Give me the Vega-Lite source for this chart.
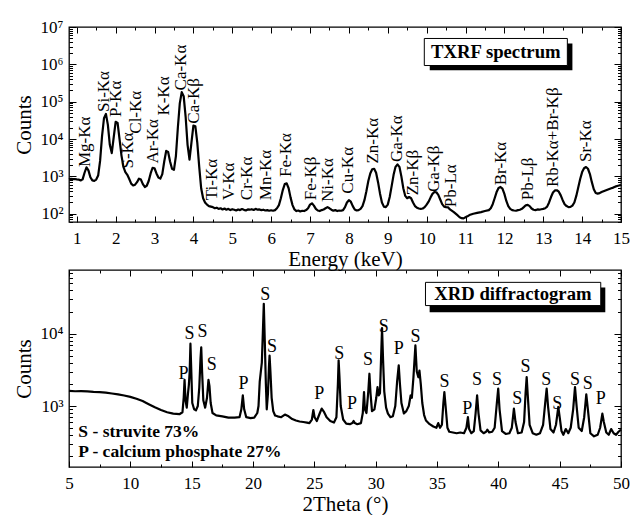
{
  "$schema": "https://vega.github.io/schema/vega-lite/v6.json",
  "padding": {"left": 12, "top": 17, "right": 1, "bottom": 0},
  "spacing": -2,
  "datasets": {
    "txrf": [
      {"e":0.8,"c":830},{"e":0.85,"c":860},{"e":0.9,"c":840},{"e":0.95,"c":850},{"e":1.0,"c":830},{"e":1.05,"c":820},{"e":1.1,"c":780},{"e":1.15,"c":830},{"e":1.2,"c":1250},{"e":1.25,"c":1750},{"e":1.3,"c":1450},{"e":1.35,"c":950},{"e":1.4,"c":780},{"e":1.45,"c":760},{"e":1.5,"c":820},{"e":1.55,"c":1050},{"e":1.6,"c":2600},{"e":1.65,"c":12000},{"e":1.7,"c":36000},{"e":1.75,"c":47000},{"e":1.8,"c":24000},{"e":1.85,"c":7000},{"e":1.9,"c":4200},{"e":1.95,"c":11000},{"e":2.0,"c":29000},{"e":2.05,"c":27000},{"e":2.1,"c":10000},{"e":2.15,"c":3600},{"e":2.2,"c":1800},{"e":2.25,"c":1300},{"e":2.3,"c":1100},{"e":2.35,"c":850},{"e":2.4,"c":640},{"e":2.45,"c":570},{"e":2.5,"c":600},{"e":2.55,"c":700},{"e":2.6,"c":870},{"e":2.65,"c":820},{"e":2.7,"c":620},{"e":2.75,"c":520},{"e":2.8,"c":560},{"e":2.85,"c":750},{"e":2.9,"c":1200},{"e":2.95,"c":1700},{"e":3.0,"c":1650},{"e":3.05,"c":1200},{"e":3.1,"c":930},{"e":3.15,"c":870},{"e":3.2,"c":1150},{"e":3.25,"c":2500},{"e":3.3,"c":4800},{"e":3.35,"c":4500},{"e":3.4,"c":2500},{"e":3.45,"c":1600},{"e":3.5,"c":1500},{"e":3.55,"c":3500},{"e":3.6,"c":20000},{"e":3.65,"c":90000},{"e":3.7,"c":180000},{"e":3.75,"c":140000},{"e":3.8,"c":40000},{"e":3.85,"c":7000},{"e":3.9,"c":2800},{"e":3.95,"c":8000},{"e":4.0,"c":23000},{"e":4.05,"c":22000},{"e":4.1,"c":8000},{"e":4.15,"c":1800},{"e":4.2,"c":480},{"e":4.25,"c":260},{"e":4.3,"c":200},{"e":4.35,"c":175},{"e":4.4,"c":160},{"e":4.45,"c":155},
      {"e":4.5,"c":150},{"e":4.55,"c":140},{"e":4.6,"c":145},{"e":4.65,"c":135},{"e":4.7,"c":140},{"e":4.75,"c":130},{"e":4.8,"c":138},{"e":4.85,"c":128},{"e":4.9,"c":135},{"e":4.95,"c":125},{"e":5.0,"c":132},{"e":5.05,"c":128},{"e":5.1,"c":122},{"e":5.15,"c":130},{"e":5.2,"c":125},{"e":5.25,"c":133},{"e":5.3,"c":127},{"e":5.35,"c":122},{"e":5.4,"c":130},{"e":5.45,"c":128},{"e":5.5,"c":132},{"e":5.55,"c":126},{"e":5.6,"c":135},{"e":5.65,"c":128},{"e":5.7,"c":130},{"e":5.75,"c":125},{"e":5.8,"c":128},{"e":5.85,"c":122},{"e":5.9,"c":125},{"e":5.95,"c":120},{"e":6.0,"c":124},{"e":6.05,"c":120},{"e":6.1,"c":125},{"e":6.15,"c":140},{"e":6.2,"c":170},{"e":6.25,"c":260},{"e":6.3,"c":430},{"e":6.35,"c":620},{"e":6.4,"c":650},{"e":6.45,"c":480},{"e":6.5,"c":270},{"e":6.55,"c":170},{"e":6.6,"c":130},{"e":6.65,"c":118},{"e":6.7,"c":122},{"e":6.75,"c":115},{"e":6.8,"c":120},{"e":6.85,"c":118},{"e":6.9,"c":125},{"e":6.95,"c":140},{"e":7.0,"c":175},{"e":7.05,"c":190},{"e":7.1,"c":165},{"e":7.15,"c":135},{"e":7.2,"c":122},{"e":7.25,"c":118},{"e":7.3,"c":125},{"e":7.35,"c":130},{"e":7.4,"c":140},{"e":7.45,"c":150},{"e":7.5,"c":140},{"e":7.55,"c":128},{"e":7.6,"c":120},{"e":7.65,"c":125},{"e":7.7,"c":118},{"e":7.75,"c":122},{"e":7.8,"c":120},{"e":7.85,"c":125},{"e":7.9,"c":150},{"e":7.95,"c":200},{"e":8.0,"c":230},{"e":8.05,"c":210},{"e":8.1,"c":160},{"e":8.15,"c":130},{"e":8.2,"c":122},{"e":8.25,"c":125},{"e":8.3,"c":135},{"e":8.35,"c":160},{"e":8.4,"c":230},{"e":8.45,"c":400},{"e":8.5,"c":750},{"e":8.55,"c":1200},{"e":8.6,"c":1550},{"e":8.65,"c":1600},{"e":8.7,"c":1250},{"e":8.75,"c":700},{"e":8.8,"c":350},{"e":8.85,"c":200},{"e":8.9,"c":155},{"e":8.95,"c":150},{"e":9.0,"c":175},{"e":9.05,"c":280},{"e":9.1,"c":550},{"e":9.15,"c":1100},{"e":9.2,"c":1800},{"e":9.25,"c":2100},{"e":9.3,"c":1800},{"e":9.35,"c":1000},{"e":9.4,"c":480},{"e":9.45,"c":300},{"e":9.5,"c":260},{"e":9.55,"c":280},{"e":9.6,"c":260},{"e":9.65,"c":200},{"e":9.7,"c":160},{"e":9.75,"c":145},{"e":9.8,"c":138},{"e":9.85,"c":135},{"e":9.9,"c":138},{"e":9.95,"c":150},{"e":10.0,"c":175},{"e":10.05,"c":210},{"e":10.1,"c":270},{"e":10.15,"c":340},{"e":10.2,"c":380},{"e":10.25,"c":375},{"e":10.3,"c":320},{"e":10.35,"c":240},{"e":10.4,"c":180},{"e":10.45,"c":155},{"e":10.5,"c":150},{"e":10.55,"c":148},{"e":10.6,"c":130},{"e":10.7,"c":110},{"e":10.8,"c":90},{"e":10.85,"c":80},{"e":10.9,"c":76},{"e":10.95,"c":75},{"e":11.0,"c":80},{"e":11.05,"c":85},{"e":11.1,"c":92},{"e":11.2,"c":100},{"e":11.3,"c":105},{"e":11.4,"c":110},{"e":11.5,"c":118},{"e":11.6,"c":125},{"e":11.65,"c":140},{"e":11.7,"c":180},{"e":11.75,"c":260},{"e":11.8,"c":380},{"e":11.85,"c":490},{"e":11.9,"c":520},{"e":11.95,"c":470},{"e":12.0,"c":340},{"e":12.05,"c":220},{"e":12.1,"c":160},{"e":12.15,"c":135},{"e":12.2,"c":125},{"e":12.25,"c":122},{"e":12.3,"c":120},{"e":12.35,"c":125},{"e":12.4,"c":128},{"e":12.45,"c":135},{"e":12.5,"c":150},{"e":12.55,"c":168},{"e":12.6,"c":172},{"e":12.65,"c":160},{"e":12.7,"c":138},{"e":12.75,"c":128},{"e":12.8,"c":125},{"e":12.85,"c":130},{"e":12.9,"c":128},{"e":12.95,"c":132},{"e":13.0,"c":135},{"e":13.05,"c":140},{"e":13.1,"c":155},{"e":13.15,"c":200},{"e":13.2,"c":280},{"e":13.25,"c":370},{"e":13.3,"c":420},{"e":13.35,"c":425},{"e":13.4,"c":390},{"e":13.45,"c":310},{"e":13.5,"c":230},{"e":13.55,"c":180},{"e":13.6,"c":160},{"e":13.65,"c":150},{"e":13.7,"c":152},{"e":13.75,"c":165},{"e":13.8,"c":200},{"e":13.85,"c":300},{"e":13.9,"c":500},{"e":13.95,"c":850},{"e":14.0,"c":1300},{"e":14.05,"c":1650},{"e":14.1,"c":1780},{"e":14.15,"c":1600},{"e":14.2,"c":1150},{"e":14.25,"c":700},{"e":14.3,"c":450},{"e":14.35,"c":360},{"e":14.4,"c":345},{"e":14.45,"c":355},{"e":14.5,"c":380},{"e":14.55,"c":400},{"e":14.6,"c":420},{"e":14.65,"c":440},{"e":14.7,"c":460},{"e":14.75,"c":480},{"e":14.8,"c":500},{"e":14.85,"c":530},{"e":14.9,"c":550},{"e":14.95,"c":570},{"e":15.0,"c":590}
    ],
    "txrfLabels": [
      {"e":1.22,"c":1780,"l":"Mg-Kα"},{"e":1.69,"c":52800,"l":"Si-Kα"},{"e":2.01,"c":38900,"l":"P-Kα"},{"e":2.31,"c":1620,"l":"S-Kα"},{"e":2.52,"c":13900,"l":"Cl-Kα"},{"e":2.95,"c":2200,"l":"Ar-Kα"},{"e":3.25,"c":42500,"l":"K-Kα"},{"e":3.68,"c":200000,"l":"Ca-Kα"},{"e":4.02,"c":25800,"l":"Ca-Kβ"},{"e":4.49,"c":230,"l":"Ti-Kα"},{"e":4.92,"c":230,"l":"V-Kα"},{"e":5.39,"c":230,"l":"Cr-Kα"},{"e":5.87,"c":230,"l":"Mn-Kα"},{"e":6.38,"c":963,"l":"Fe-Kα"},{"e":7.03,"c":230,"l":"Fe-Kβ"},{"e":7.45,"c":207,"l":"Ni-Kα"},{"e":7.97,"c":345,"l":"Cu-Kα"},{"e":8.63,"c":2200,"l":"Zn-Kα"},{"e":9.23,"c":2430,"l":"Ga-Kα"},{"e":9.64,"c":312,"l":"Zn-Kβ"},{"e":10.2,"c":383,"l":"Ga-Kβ"},{"e":10.63,"c":150,"l":"Pb-Lα"},{"e":11.91,"c":578,"l":"Br-Kα"},{"e":12.62,"c":230,"l":"Pb-Lβ"},{"e":13.24,"c":520,"l":"Rb-Kα+Br-Kβ"},{"e":14.1,"c":2430,"l":"Sr-Kα"}
    ],
    "txrfShadow": [{"x1":10.08,"x2":13.75,"y1":690000,"y2":3600000}],
    "txrfBox": [{"x1":9.94,"x2":13.62,"y1":930000,"y2":4930000,"l":"TXRF spectrum","xm":11.78,"ym":2080000}],
    "xrd": [
      {"t":5.0,"c":1620},{"t":5.5,"c":1600},{"t":6.0,"c":1610},{"t":6.5,"c":1590},{"t":7.0,"c":1570},{"t":7.5,"c":1560},{"t":8.0,"c":1530},{"t":8.5,"c":1490},{"t":9.0,"c":1450},{"t":9.5,"c":1400},{"t":10.0,"c":1340},{"t":10.5,"c":1260},{"t":11.0,"c":1170},{"t":11.5,"c":1060},{"t":12.0,"c":960},{"t":12.5,"c":880},{"t":13.0,"c":820},{"t":13.5,"c":785},{"t":14.0,"c":770},{"t":14.25,"c":820},{"t":14.35,"c":1300},{"t":14.42,"c":2300},{"t":14.5,"c":1200},{"t":14.6,"c":950},{"t":14.7,"c":1500},{"t":14.77,"c":1950},{"t":14.84,"c":3000},{"t":14.9,"c":7300},{"t":14.97,"c":3000},{"t":15.05,"c":1100},{"t":15.2,"c":900},{"t":15.35,"c":870},{"t":15.5,"c":1000},{"t":15.62,"c":1800},{"t":15.72,"c":4500},{"t":15.78,"c":6500},{"t":15.85,"c":3000},{"t":15.95,"c":1200},{"t":16.1,"c":950},{"t":16.25,"c":1300},{"t":16.37,"c":2300},{"t":16.45,"c":1900},{"t":16.55,"c":1100},{"t":16.7,"c":800},{"t":17.0,"c":740},{"t":17.5,"c":720},{"t":18.0,"c":690},{"t":18.5,"c":690},{"t":18.9,"c":700},{"t":19.05,"c":900},{"t":19.17,"c":1400},{"t":19.28,"c":900},{"t":19.45,"c":700},{"t":19.8,"c":680},{"t":20.1,"c":690},{"t":20.35,"c":800},{"t":20.45,"c":1000},{"t":20.55,"c":2200},{"t":20.62,"c":2800},{"t":20.72,"c":4000},{"t":20.8,"c":10000},{"t":20.88,"c":26000},{"t":20.96,"c":8000},{"t":21.05,"c":2000},{"t":21.12,"c":900},{"t":21.22,"c":1500},{"t":21.3,"c":3500},{"t":21.35,"c":5000},{"t":21.42,"c":3000},{"t":21.52,"c":1300},{"t":21.65,"c":850},{"t":21.8,"c":740},{"t":22.0,"c":720},{"t":22.3,"c":700},{"t":22.6,"c":760},{"t":22.9,"c":720},{"t":23.2,"c":660},{"t":23.5,"c":630},{"t":23.8,"c":610},{"t":24.1,"c":600},{"t":24.4,"c":590},{"t":24.6,"c":580},{"t":24.8,"c":650},{"t":24.92,"c":880},{"t":25.02,"c":700},{"t":25.2,"c":620},{"t":25.45,"c":800},{"t":25.6,"c":920},{"t":25.8,"c":820},{"t":26.0,"c":700},{"t":26.3,"c":620},{"t":26.6,"c":590},{"t":26.8,"c":700},{"t":26.92,"c":2000},{"t":26.98,"c":4300},{"t":27.05,"c":2500},{"t":27.15,"c":1000},{"t":27.35,"c":650},{"t":27.6,"c":570},{"t":27.9,"c":560},{"t":28.1,"c":580},{"t":28.2,"c":620},{"t":28.3,"c":580},{"t":28.5,"c":560},{"t":28.8,"c":580},{"t":28.95,"c":800},{"t":29.05,"c":1560},{"t":29.12,"c":900},{"t":29.25,"c":800},{"t":29.4,"c":1600},{"t":29.49,"c":2800},{"t":29.58,"c":1500},{"t":29.7,"c":850},{"t":29.9,"c":900},{"t":30.05,"c":1300},{"t":30.15,"c":1830},{"t":30.25,"c":1400},{"t":30.35,"c":1500},{"t":30.43,"c":4000},{"t":30.52,"c":12000},{"t":30.6,"c":4500},{"t":30.7,"c":1600},{"t":30.85,"c":950},{"t":31.0,"c":785},{"t":31.2,"c":700},{"t":31.4,"c":720},{"t":31.6,"c":1000},{"t":31.75,"c":2200},{"t":31.88,"c":3650},{"t":31.98,"c":2000},{"t":32.1,"c":1100},{"t":32.3,"c":790},{"t":32.5,"c":850},{"t":32.7,"c":1000},{"t":32.85,"c":1400},{"t":32.95,"c":1300},{"t":33.08,"c":2500},{"t":33.24,"c":6900},{"t":33.35,"c":3000},{"t":33.48,"c":2500},{"t":33.57,"c":3100},{"t":33.68,"c":2000},{"t":33.8,"c":1100},{"t":33.95,"c":750},{"t":34.1,"c":630},{"t":34.4,"c":560},{"t":34.7,"c":520},{"t":34.95,"c":500},{"t":35.1,"c":580},{"t":35.25,"c":500},{"t":35.4,"c":550},{"t":35.52,"c":1100},{"t":35.6,"c":1560},{"t":35.7,"c":1000},{"t":35.85,"c":500},{"t":36.0,"c":440},{"t":36.3,"c":430},{"t":36.6,"c":420},{"t":36.9,"c":430},{"t":37.2,"c":420},{"t":37.4,"c":500},{"t":37.52,"c":700},{"t":37.62,"c":480},{"t":37.8,"c":420},{"t":38.0,"c":450},{"t":38.15,"c":800},{"t":38.27,"c":1400},{"t":38.38,"c":800},{"t":38.55,"c":460},{"t":38.8,"c":420},{"t":39.0,"c":440},{"t":39.1,"c":470},{"t":39.25,"c":430},{"t":39.5,"c":440},{"t":39.7,"c":500},{"t":39.88,"c":1100},{"t":39.99,"c":1740},{"t":40.1,"c":900},{"t":40.3,"c":450},{"t":40.6,"c":410},{"t":40.9,"c":420},{"t":41.1,"c":500},{"t":41.27,"c":920},{"t":41.4,"c":600},{"t":41.6,"c":420},{"t":41.9,"c":430},{"t":42.1,"c":600},{"t":42.22,"c":1500},{"t":42.31,"c":2520},{"t":42.4,"c":1400},{"t":42.55,"c":550},{"t":42.8,"c":420},{"t":43.1,"c":400},{"t":43.4,"c":420},{"t":43.65,"c":550},{"t":43.82,"c":1100},{"t":43.94,"c":1740},{"t":44.05,"c":1000},{"t":44.25,"c":480},{"t":44.5,"c":430},{"t":44.7,"c":550},{"t":44.89,"c":970},{"t":45.0,"c":700},{"t":45.15,"c":450},{"t":45.3,"c":400},{"t":45.5,"c":480},{"t":45.7,"c":420},{"t":45.9,"c":500},{"t":46.1,"c":900},{"t":46.25,"c":1830},{"t":46.38,"c":1000},{"t":46.55,"c":500},{"t":46.8,"c":450},{"t":47.0,"c":700},{"t":47.17,"c":1450},{"t":47.3,"c":900},{"t":47.5,"c":420},{"t":47.8,"c":380},{"t":48.1,"c":400},{"t":48.3,"c":500},{"t":48.48,"c":785},{"t":48.6,"c":600},{"t":48.8,"c":430},{"t":49.0,"c":400},{"t":49.2,"c":480},{"t":49.4,"c":420},{"t":49.6,"c":400},{"t":49.8,"c":440},{"t":50.0,"c":470}
    ],
    "xrdLabels": [
      {"t":14.33,"c":2800,"l":"P"},{"t":14.82,"c":10000,"l":"S"},{"t":15.88,"c":10500,"l":"S"},{"t":16.64,"c":3650,"l":"S"},{"t":19.23,"c":2000,"l":"P"},{"t":21.0,"c":34000,"l":"S"},{"t":21.54,"c":6530,"l":"S"},{"t":25.41,"c":1480,"l":"P"},{"t":27.04,"c":5300,"l":"S"},{"t":28.07,"c":1080,"l":"P"},{"t":29.38,"c":4270,"l":"S"},{"t":30.66,"c":12300,"l":"S"},{"t":31.88,"c":6200,"l":"P"},{"t":33.24,"c":8970,"l":"S"},{"t":35.61,"c":2145,"l":"S"},{"t":37.46,"c":920,"l":"P"},{"t":38.27,"c":2265,"l":"S"},{"t":39.9,"c":2265,"l":"S"},{"t":41.54,"c":1265,"l":"S"},{"t":42.22,"c":3460,"l":"S"},{"t":43.9,"c":2265,"l":"S"},{"t":44.8,"c":1080,"l":"S"},{"t":46.25,"c":2265,"l":"S"},{"t":47.29,"c":2040,"l":"S"},{"t":48.35,"c":1265,"l":"P"}
    ],
    "xrdShadow": [{"x1":34.4,"x2":48.72,"y1":19900,"y2":43700}],
    "xrdBox": [{"x1":34.06,"x2":48.35,"y1":24600,"y2":51600,"l":"XRD diffractogram","xm":41.19,"ym":35600}],
    "xrdLegend": [{"t":5.76,"c":437,"l":"S - struvite 73%"},{"t":5.76,"c":232,"l":"P - calcium phosphate 27%"}]
  },
  "vconcat": [
    {
      "width": 552,
      "height": 195,
      "resolve": {"axis": {"x": "independent", "y": "independent"}},
      "layer": [
        {
          "data": {"name": "txrf"},
          "mark": {"type": "line", "color": "black", "strokeWidth": 2.2, "strokeJoin": "round"},
          "encoding": {
            "x": {"field": "e", "type": "quantitative", "scale": {"domain": [0.8, 15], "nice": false, "zero": false},
              "axis": {"orient": "bottom", "values": [1,2,3,4,5,6,7,8,9,10,11,12,13,14,15], "tickSize": -6, "labelPadding": 14, "title": "Energy (keV)", "titlePadding": 2, "labelFlush": false, "labelOverlap": false, "labelBound": false}},
            "y": {"field": "c", "type": "quantitative", "scale": {"type": "log", "domain": [60, 10000000], "nice": false},
              "axis": {"orient": "left", "values": [100,1000,10000,100000,1000000,10000000], "tickSize": -7, "labelPadding": 13, "title": "Counts", "titlePadding": 6,
                "labelExpr": "datum.value == 100 ? '10²' : datum.value == 1000 ? '10³' : datum.value == 10000 ? '10⁴' : datum.value == 100000 ? '10⁵' : datum.value == 1000000 ? '10⁶' : '10⁷'", "labelOverlap": false, "labelFlush": false}}
          }
        },
        {
          "data": {"name": "txrfLabels"},
          "mark": {"type": "text", "angle": -90, "align": "left", "baseline": "middle", "fontSize": 17, "font": "Liberation Serif", "color": "black"},
          "encoding": {
            "x": {"field": "e", "type": "quantitative", "scale": {"domain": [0.8, 15], "nice": false, "zero": false},
              "axis": {"orient": "bottom", "values": [1.5,2.5,3.5,4.5,5.5,6.5,7.5,8.5,9.5,10.5,11.5,12.5,13.5,14.5], "tickSize": -3, "labels": false, "title": null}},
            "y": {"field": "c", "type": "quantitative", "scale": {"type": "log", "domain": [60, 10000000], "nice": false},
              "axis": {"orient": "left", "values": [60,70,80,90,200,300,400,500,600,700,800,900,2000,3000,4000,5000,6000,7000,8000,9000,20000,30000,40000,50000,60000,70000,80000,90000,200000,300000,400000,500000,600000,700000,800000,900000,2000000,3000000,4000000,5000000,6000000,7000000,8000000,9000000], "tickSize": -3.5, "labels": false, "title": null}},
            "text": {"field": "l"}
          }
        },
        {
          "data": {"name": "txrfShadow"},
          "mark": {"type": "rect", "color": "black"},
          "encoding": {
            "x": {"field": "x1", "type": "quantitative", "scale": {"domain": [0.8, 15], "nice": false, "zero": false},
              "axis": {"orient": "top", "values": [1,2,3,4,5,6,7,8,9,10,11,12,13,14,15], "tickSize": -6, "labels": false, "title": null}},
            "x2": {"field": "x2"},
            "y": {"field": "y1", "type": "quantitative", "scale": {"type": "log", "domain": [60, 10000000], "nice": false},
              "axis": {"orient": "right", "values": [100,1000,10000,100000,1000000,10000000], "tickSize": -7, "labels": false, "title": null}},
            "y2": {"field": "y2"}
          }
        },
        {
          "data": {"name": "txrfBox"},
          "mark": {"type": "rect", "fill": "white", "stroke": "black", "strokeWidth": 1},
          "encoding": {
            "x": {"field": "x1", "type": "quantitative", "scale": {"domain": [0.8, 15], "nice": false, "zero": false},
              "axis": {"orient": "top", "values": [1.5,2.5,3.5,4.5,5.5,6.5,7.5,8.5,9.5,10.5,11.5,12.5,13.5,14.5], "tickSize": -3, "labels": false, "title": null}},
            "x2": {"field": "x2"},
            "y": {"field": "y1", "type": "quantitative", "scale": {"type": "log", "domain": [60, 10000000], "nice": false},
              "axis": {"orient": "right", "values": [60,70,80,90,200,300,400,500,600,700,800,900,2000,3000,4000,5000,6000,7000,8000,9000,20000,30000,40000,50000,60000,70000,80000,90000,200000,300000,400000,500000,600000,700000,800000,900000,2000000,3000000,4000000,5000000,6000000,7000000,8000000,9000000], "tickSize": -3.5, "labels": false, "title": null}},
            "y2": {"field": "y2"}
          }
        },
        {
          "data": {"name": "txrfBox"},
          "mark": {"type": "text", "align": "center", "baseline": "middle", "fontSize": 18.7, "fontWeight": "bold", "font": "Liberation Serif", "color": "black"},
          "encoding": {
            "x": {"field": "xm", "type": "quantitative", "scale": {"domain": [0.8, 15], "nice": false, "zero": false}, "axis": null},
            "y": {"field": "ym", "type": "quantitative", "scale": {"type": "log", "domain": [60, 10000000], "nice": false}, "axis": null},
            "text": {"field": "l"}
          }
        }
      ]
    },
    {
      "width": 552,
      "height": 197,
      "resolve": {"axis": {"x": "independent", "y": "independent"}},
      "layer": [
        {
          "data": {"name": "xrd"},
          "mark": {"type": "line", "color": "black", "strokeWidth": 2.2, "strokeJoin": "round"},
          "encoding": {
            "x": {"field": "t", "type": "quantitative", "scale": {"domain": [5, 50], "nice": false, "zero": false},
              "axis": {"orient": "bottom", "values": [5,10,15,20,25,30,35,40,45,50], "tickSize": -6, "labelPadding": 14, "title": "2Theta (°)", "titlePadding": 2, "labelFlush": false, "labelOverlap": false, "labelBound": false}},
            "y": {"field": "c", "type": "quantitative", "scale": {"type": "log", "domain": [143, 76500], "nice": false},
              "axis": {"orient": "left", "values": [1000, 10000], "tickSize": -7, "labelPadding": 13, "title": "Counts", "titlePadding": 6,
                "labelExpr": "datum.value == 1000 ? '10³' : '10⁴'", "labelOverlap": false, "labelFlush": false}}
          }
        },
        {
          "data": {"name": "xrdLabels"},
          "mark": {"type": "text", "align": "center", "baseline": "middle", "fontSize": 18, "font": "Liberation Serif", "color": "black"},
          "encoding": {
            "x": {"field": "t", "type": "quantitative", "scale": {"domain": [5, 50], "nice": false, "zero": false},
              "axis": {"orient": "bottom", "values": [7.5,12.5,17.5,22.5,27.5,32.5,37.5,42.5,47.5], "tickSize": -3, "labels": false, "title": null}},
            "y": {"field": "c", "type": "quantitative", "scale": {"type": "log", "domain": [143, 76500], "nice": false},
              "axis": {"orient": "left", "values": [200,300,400,500,600,700,800,900,2000,3000,4000,5000,6000,7000,8000,9000,20000,30000,40000,50000,60000,70000], "tickSize": -3.5, "labels": false, "title": null}},
            "text": {"field": "l"}
          }
        },
        {
          "data": {"name": "xrdShadow"},
          "mark": {"type": "rect", "color": "black"},
          "encoding": {
            "x": {"field": "x1", "type": "quantitative", "scale": {"domain": [5, 50], "nice": false, "zero": false},
              "axis": {"orient": "top", "values": [5,10,15,20,25,30,35,40,45,50], "tickSize": -6, "labels": false, "title": null}},
            "x2": {"field": "x2"},
            "y": {"field": "y1", "type": "quantitative", "scale": {"type": "log", "domain": [143, 76500], "nice": false},
              "axis": {"orient": "right", "values": [1000, 10000], "tickSize": -7, "labels": false, "title": null}},
            "y2": {"field": "y2"}
          }
        },
        {
          "data": {"name": "xrdBox"},
          "mark": {"type": "rect", "fill": "white", "stroke": "black", "strokeWidth": 1},
          "encoding": {
            "x": {"field": "x1", "type": "quantitative", "scale": {"domain": [5, 50], "nice": false, "zero": false},
              "axis": {"orient": "top", "values": [7.5,12.5,17.5,22.5,27.5,32.5,37.5,42.5,47.5], "tickSize": -3, "labels": false, "title": null}},
            "x2": {"field": "x2"},
            "y": {"field": "y1", "type": "quantitative", "scale": {"type": "log", "domain": [143, 76500], "nice": false},
              "axis": {"orient": "right", "values": [200,300,400,500,600,700,800,900,2000,3000,4000,5000,6000,7000,8000,9000,20000,30000,40000,50000,60000,70000], "tickSize": -3.5, "labels": false, "title": null}},
            "y2": {"field": "y2"}
          }
        },
        {
          "data": {"name": "xrdBox"},
          "mark": {"type": "text", "align": "center", "baseline": "middle", "fontSize": 18.7, "fontWeight": "bold", "font": "Liberation Serif", "color": "black"},
          "encoding": {
            "x": {"field": "xm", "type": "quantitative", "scale": {"domain": [5, 50], "nice": false, "zero": false}, "axis": null},
            "y": {"field": "ym", "type": "quantitative", "scale": {"type": "log", "domain": [143, 76500], "nice": false}, "axis": null},
            "text": {"field": "l"}
          }
        },
        {
          "data": {"name": "xrdLegend"},
          "mark": {"type": "text", "align": "left", "baseline": "middle", "fontSize": 17.5, "fontWeight": "bold", "font": "Liberation Serif", "color": "black"},
          "encoding": {
            "x": {"field": "t", "type": "quantitative", "scale": {"domain": [5, 50], "nice": false, "zero": false}, "axis": null},
            "y": {"field": "c", "type": "quantitative", "scale": {"type": "log", "domain": [143, 76500], "nice": false}, "axis": null},
            "text": {"field": "l"}
          }
        }
      ]
    }
  ],
  "config": {
    "font": "Liberation Serif",
    "view": {"stroke": "black", "strokeWidth": 1.3},
    "axis": {"labelFont": "Liberation Serif", "labelFontSize": 17, "labelColor": "black", "titleFont": "Liberation Serif", "titleFontSize": 21, "titleFontWeight": "normal", "titleColor": "black", "tickColor": "black", "tickWidth": 1, "domain": false, "grid": false}
  }
}
